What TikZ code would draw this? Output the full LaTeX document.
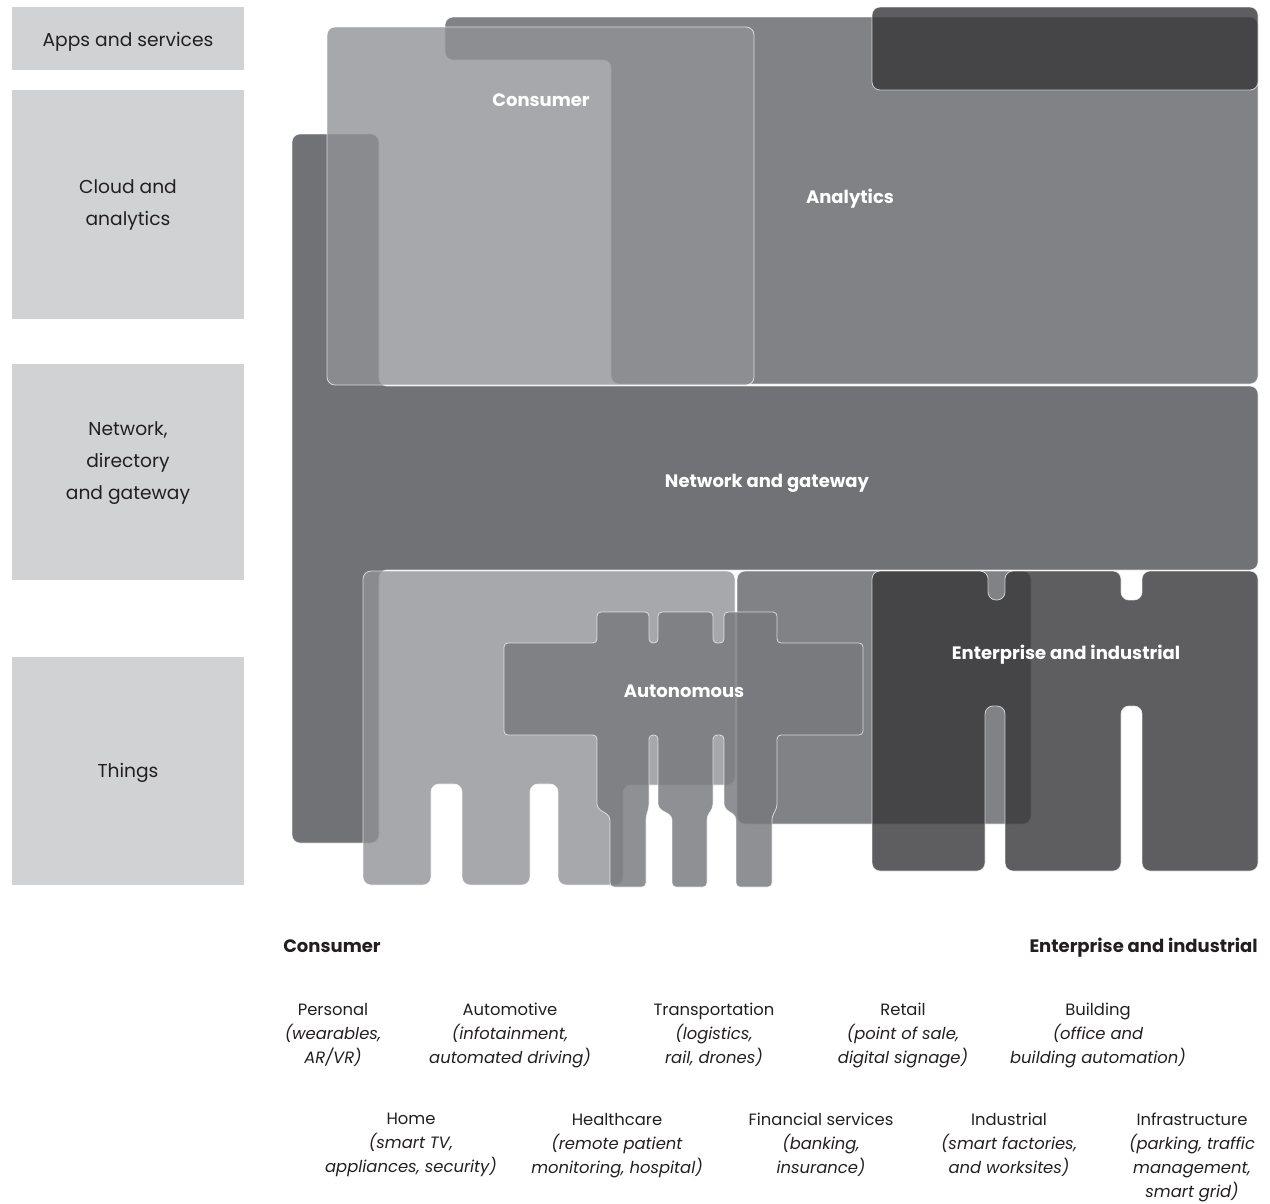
\documentclass[tikz,border=0pt]{standalone}
\usepackage{fontspec}
\setmainfont{Poppins}
\definecolor{boxc}{RGB}{209,210,212}
\definecolor{netc}{RGB}{113,114,117}
\definecolor{anac}{RGB}{129,130,134}
\definecolor{conc}{RGB}{145,146,150}
\definecolor{autc}{RGB}{120,121,125}
\definecolor{entc}{RGB}{54,54,57}
\definecolor{txtc}{RGB}{35,31,32}
\begin{document}
\begin{tikzpicture}[x=0.75pt,y=-0.75pt,
  layerbox/.style={fill=boxc},
  edge/.style={draw=white,draw opacity=0.7,line width=0.6pt},
  netshape/.style={edge,fill=netc,rounded corners=6pt},
  anashape/.style={edge,fill=anac,rounded corners=6pt},
  conshape/.style={edge,fill=conc,fill opacity=0.8,rounded corners=6pt},
  autshape/.style={edge,fill=autc,fill opacity=0.83,rounded corners=3pt},
  entshape/.style={edge,fill=entc,fill opacity=0.8,rounded corners=6pt},
  lab/.style={text=txtc,align=center,inner sep=0pt,font=\fontsize{14}{24}\selectfont},
  biglab/.style={text=white,inner sep=0pt,font=\fontsize{13.5}{16}\selectfont\bfseries},
  head/.style={text=txtc,inner sep=0pt,font=\fontsize{13.5}{16}\selectfont\bfseries},
  rowtxt/.style={text=txtc,align=center,anchor=north,inner sep=0pt,font=\fontsize{12.3}{18}\selectfont}
]
\useasboundingbox (0,0) rectangle (1270,1203);

% left layer boxes
\fill[layerbox] (12,7) rectangle (244,70);
\fill[layerbox] (12,90) rectangle (244,319);
\fill[layerbox] (12,364) rectangle (244,580);
\fill[layerbox] (12,657) rectangle (244,885);
\node[lab] (apps) at (128,42) {Apps and services};
\node[lab] (cloud) at (128,205) {Cloud and\\analytics};
\node[lab] (netw) at (128,463) {Network,\\directory\\and gateway};
\node[lab] (things) at (128,773) {Things};

% network and gateway
\path[netshape] (292,134) -- (379,134) -- (379,386) -- (1258,386) -- (1258,570)
  -- (379,570) -- (379,843) -- (292,843) -- cycle;
% analytics
\path[anashape] (445,17) -- (1258,17) -- (1258,384) -- (611,384) -- (611,60)
  -- (445,60) -- cycle;
% analytics column at the things level
\path[anashape] (737,571) rectangle (1031,824);
% consumer
\path[conshape] (327,27) rectangle (754,385);
\path[conshape] (363,571) -- (735,571) -- (735,785) -- (623,785) -- (623,885)
  -- (558,885) -- (558,784) -- (530,784) -- (530,885) -- (462,885) -- (462,784)
  -- (431,784) -- (431,885) -- (363,885) -- cycle;
% autonomous
\path[autshape] (597,612) -- (649,612) -- (649,643) -- (658,643) -- (658,612)
  -- (713,612) -- (713,643) -- (724,643) -- (724,612) -- (777,612) -- (777,643)
  -- (863,643) -- (863,735) -- (777,735) -- (777,808) -- (772,816) -- (772,887)
  -- (736,887) -- (736,816) -- (724,808) -- (724,735) -- (713,735) -- (713,808)
  -- (707,816) -- (707,887) -- (672,887) -- (672,816) -- (658,808) -- (658,735)
  -- (649,735) -- (649,808) -- (646,816) -- (646,887) -- (610,887) -- (610,816)
  -- (597,808) -- (597,735) -- (504,735) -- (504,643) -- (597,643) -- cycle;
% enterprise and industrial
\path[entshape] (872,7) rectangle (1258,90);
\path[entshape] (872,571) -- (988,571) -- (988,600) -- (1005,600) -- (1005,571)
  -- (1121,571) -- (1121,600) -- (1142,600) -- (1142,571) -- (1258,571)
  -- (1258,871) -- (1142,871) -- (1142,706) -- (1121,706) -- (1121,871)
  -- (1005,871) -- (1005,706) -- (985,706) -- (985,871) -- (872,871) -- cycle;

% labels on the shapes
\node[biglab] (lcons) at (541,100.5) {Consumer};
\node[biglab] (lana) at (850,199) {Analytics};
\node[biglab] (lnet) at (767,483) {Network and gateway};
\node[biglab] (laut) at (684,691.5) {Autonomous};
\node[biglab] (lent) at (1066,655) {Enterprise and industrial};

% legend
\node[head,anchor=west] (hcons) at (283,946) {Consumer};
\node[head,anchor=east] (hent) at (1258,947.5) {Enterprise and industrial};

\node[rowtxt] (personal) at (333,1003) {Personal\\\textit{(wearables,}\\\textit{AR/VR)}};
\node[rowtxt] (auto) at (510,1003) {Automotive\\\textit{(infotainment,}\\\textit{automated driving)}};
\node[rowtxt] (trans) at (714,1003) {Transportation\\\textit{(logistics,}\\\textit{rail, drones)}};
\node[rowtxt] (retail) at (903,1003) {Retail\\\textit{(point of sale,}\\\textit{digital signage)}};
\node[rowtxt] (build) at (1098,1003) {Building\\\textit{(office and}\\\textit{building automation)}};

\node[rowtxt] (home) at (411,1113) {Home\\\textit{(smart TV,}\\\textit{appliances, security)}};
\node[rowtxt] (health) at (617,1113) {Healthcare\\\textit{(remote patient}\\\textit{monitoring, hospital)}};
\node[rowtxt] (fin) at (821,1113) {Financial services\\\textit{(banking,}\\\textit{insurance)}};
\node[rowtxt] (indus) at (1009,1113) {Industrial\\\textit{(smart factories,}\\\textit{and worksites)}};
\node[rowtxt] (infra) at (1192,1113) {Infrastructure\\\textit{(parking, traffic}\\\textit{management,}\\\textit{smart grid)}};
\end{tikzpicture}
\end{document}
